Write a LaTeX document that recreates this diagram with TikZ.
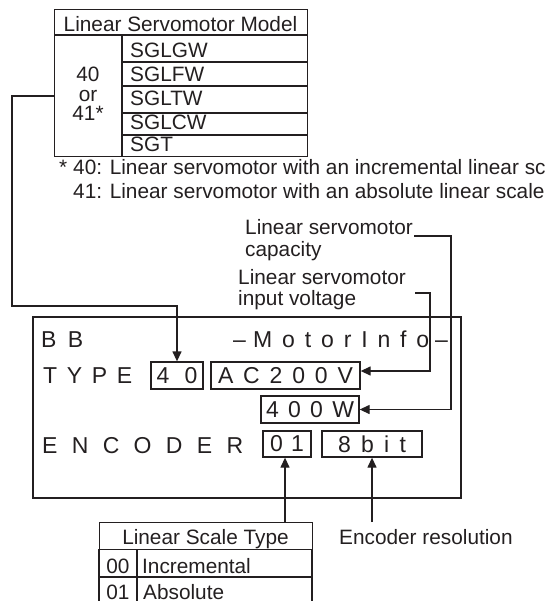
\documentclass[tikz,border=0pt]{standalone}
\usepackage{fontspec}
\setmainfont{Liberation Sans}
\usetikzlibrary{arrows.meta}
\definecolor{ink}{RGB}{35,31,32}
\newcommand\lcdspread[2]{\makebox[#1pt][s]{#2}}
\begin{document}
\begin{tikzpicture}[x=1pt,y=-1pt,
  lbl/.style={inner sep=0pt, text=ink, font=\fontsize{20.8}{22}\selectfont},
  lcdtxt/.style={inner sep=0pt, text=ink, font=\fontsize{23}{23}\selectfont},
  conn/.style={draw=ink, line width=1.3pt},
  arr/.style={conn, -{Triangle[length=10pt,width=9pt]}},
  grid/.style={draw=ink, line width=1.3pt},
  valbox/.style={draw=ink, line width=1.3pt, inner sep=0pt, minimum height=27pt, text=ink, font=\fontsize{23}{23}\selectfont},
]
\useasboundingbox (0,0) rectangle (545,601);
\clip (0,0) rectangle (545,601);

% ---------- top table: Linear Servomotor Model ----------
\node[grid, minimum width=253pt, minimum height=147pt, anchor=north west, inner sep=0pt] (tmodel) at (54,9) {};
\draw[grid] (54,35) -- (307,35);
\draw[grid] (122,35) -- (122,156);
\draw[grid] (122,62) -- (307,62);
\draw[grid] (122,86) -- (307,86);
\draw[grid] (122,113) -- (307,113);
\draw[grid] (122,135) -- (307,135);
\node[lbl, anchor=base] (hdr) at (180.5,32) {Linear Servomotor Model};
\node[lbl, anchor=base west] (m1) at (130,58) {SGLGW};
\node[lbl, anchor=base west] (m2) at (130,82) {SGLFW};
\node[lbl, anchor=base west] (m3) at (130,106) {SGLTW};
\node[lbl, anchor=base west] (m4) at (130,130) {SGLCW};
\node[lbl, anchor=base west] (m5) at (130,152) {SGT};
\node[lbl, anchor=base] (n40) at (88,82) {40};
\node[lbl, anchor=base] (nor) at (88,102) {or};
\node[lbl, anchor=base] (n41) at (88,121) {41*};

% ---------- footnote ----------
\node[lbl, anchor=base west] (ast) at (59,175) {*};
\node[lbl, anchor=base west] (fn1) at (73,175) {40: Linear servomotor with an incremental linear scale};
\node[lbl, anchor=base west] (fn2) at (73,199) {41: Linear servomotor with an absolute linear scale};

% ---------- labels ----------
\node[lbl, anchor=base west] (lcap1) at (245,235) {Linear servomotor};
\node[lbl, anchor=base west] (lcap2) at (245,256) {capacity};
\node[lbl, anchor=base west] (lvol1) at (238,284) {Linear servomotor};
\node[lbl, anchor=base west] (lvol2) at (238,305) {input voltage};

% ---------- LCD panel ----------
\node[draw=ink, line width=2.2pt, minimum width=428pt, minimum height=181pt, anchor=north west, inner sep=0pt] (lcd) at (32,316) {};
\node[lcdtxt, anchor=base west] (tbb) at (41,347) {\lcdspread{42}{B\hfill B}};
\node[lcdtxt, anchor=base west] (dash1) at (233,347) {–};
\node[lcdtxt, anchor=base west] (tmi) at (253,347) {\lcdspread{176}{M\hfill o\hfill t\hfill o\hfill r\hfill I\hfill n\hfill f\hfill o}};
\node[lcdtxt, anchor=base west] (dash2) at (435,347) {–};
\node[lcdtxt, anchor=base west] (ttype) at (43,383) {\lcdspread{89}{T\hfill Y\hfill P\hfill E}};
\node[lcdtxt, anchor=base west] (tenc) at (42,453) {\lcdspread{201}{E\hfill N\hfill C\hfill O\hfill D\hfill E\hfill R}};

\node[valbox, minimum width=52pt] (b40) at (177,375.5) {\lcdspread{41}{4\hfill 0}};
\node[valbox, minimum width=149pt] (bac) at (285.5,375.5) {\lcdspread{135}{A\hfill C\hfill 2\hfill 0\hfill 0\hfill V}};
\node[valbox, minimum width=98pt] (b400) at (310,409.5) {\lcdspread{88}{4\hfill 0\hfill 0\hfill W}};
\node[valbox, minimum width=48pt, minimum height=26pt] (b01) at (287,444) {\lcdspread{34}{0\hfill 1}};
\node[valbox, minimum width=100pt, minimum height=26pt] (b8) at (372,444) {\lcdspread{68}{8\hfill b\hfill i\hfill t}};

% ---------- bottom table: Linear Scale Type ----------
\node[grid, minimum width=213pt, minimum height=27pt, anchor=north west, inner sep=0pt] (tscale) at (99,522) {};
\draw[grid] (99,549) -- (99,612);
\draw[grid] (312,549) -- (312,612);
\draw[grid] (137,549) -- (137,612);
\draw[grid] (99,577) -- (312,577);
\node[lbl, anchor=base] (tsh) at (205.5,544) {Linear Scale Type};
\node[lbl, anchor=base] (c00) at (118,573) {00};
\node[lbl, anchor=base west] (vinc) at (142,573) {Incremental};
\node[lbl, anchor=base] (c01) at (118,599) {01};
\node[lbl, anchor=base west] (vabs) at (143,599) {Absolute};

\node[lbl, anchor=base west] (enc) at (339,544) {Encoder resolution};

% ---------- connectors ----------
\coordinate (msrc) at (54,96);
\draw[arr] (msrc) -- (12,96) -- (12,306) -| (b40.north);
\coordinate (vturn) at (430,293);
\draw[arr] ([xshift=9pt,yshift=-9pt]lvol1.base east) -- (vturn) |- ([yshift=4.5pt]bac.east);
\coordinate (cturn) at (451,236);
\draw[arr] ([xshift=1pt,yshift=-1pt]lcap1.base east) -- (cturn) |- (b400.east);
\coordinate (ssrc) at (285,522);
\draw[arr] (ssrc) -- (ssrc |- b01.south);
\coordinate (esrc) at (372,522);
\draw[arr] (esrc) -- (b8.south);
\end{tikzpicture}
\end{document}
